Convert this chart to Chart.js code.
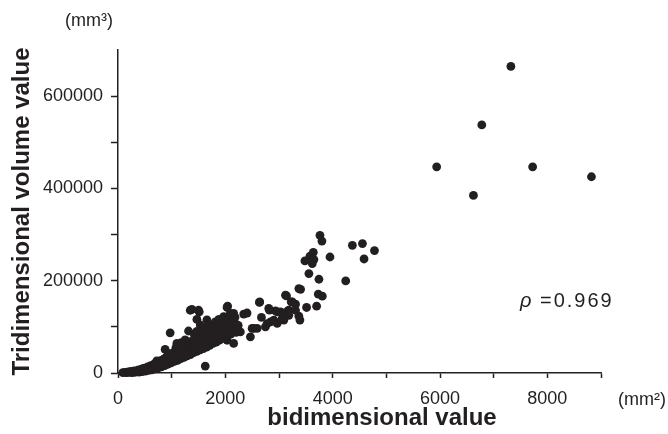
<!DOCTYPE html>
<html>
<head>
<meta charset="utf-8">
<script src="https://cdn.jsdelivr.net/npm/chart.js@4/dist/chart.umd.min.js"></script>
<style>
  body { margin: 0; background: #fff; }
  #wrap { width: 668px; height: 434px; }
</style>
</head>
<body>
<div id="wrap"><canvas id="scatter" width="668" height="434"></canvas></div>
<script>
// Axis texts
const xTitle = "bidimensional value";
const yTitle = "Tridimensional volume value";
const xUnit = "(mm\u00B2)";
const yUnit = "(mm\u00B3)";
const rhoText = "=0.969";

// Axis ranges / ticks
const xMax = 9000, xStep = 1000;
const yMax = 700000, yStep = 100000;

// Dense band of small lesions [bidimensional, tridimensional]
const bandPoints = [
    [90, 800], [130, 1500], [160, 600], [190, 2500], [210, 1200], [240, 3500], [260, 900], [280, 2200],
    [300, 4800], [320, 1600], [350, 3000], [370, 6000], [390, 2000], [410, 4500], [430, 8000], [450, 3200],
    [470, 6500], [490, 10500], [510, 4200], [530, 8500], [550, 13000], [570, 5500], [590, 10000], [610, 16000],
    [630, 7000], [650, 12500], [670, 19000], [690, 9000], [710, 15000], [730, 23000], [750, 11000], [770, 18000],
    [790, 27000], [810, 13500], [830, 21000], [850, 30000], [870, 16000], [890, 24500], [910, 34000], [930, 19000],
    [950, 28000], [970, 38000], [990, 22000], [1010, 31000], [1030, 44000], [1050, 25000], [1070, 35000], [1090, 48000],
    [1110, 27500], [1130, 39000], [1150, 52000], [1170, 31000], [1190, 43000], [1210, 56000], [1230, 34000], [1250, 47000],
    [1270, 60000], [1290, 37000], [1310, 50000], [1330, 63000], [1350, 40000], [1370, 54000], [1390, 66000], [1410, 44000],
    [1430, 57000], [1450, 70000], [1470, 47000], [1490, 60000], [1510, 73000], [1530, 50000], [1550, 63000], [1570, 76000],
    [1590, 53000], [1610, 67000], [1630, 80000], [1650, 56000], [1670, 70000], [1690, 84000], [1710, 60000], [1730, 74000],
    [1750, 88000], [1770, 64000], [1790, 78000], [1810, 92000], [1830, 67000], [1850, 82000], [1870, 96000], [1890, 71000],
    [1910, 86000], [1930, 100000], [1950, 75000], [1970, 90000], [1990, 104000], [2010, 79000], [2040, 94000], [2070, 108000],
    [2100, 84000], [2130, 98000], [2160, 112000], [2200, 88000], [2240, 103000],
    [600, 9000], [680, 13000], [760, 20000], [840, 17000], [880, 32000], [960, 25000], [1000, 40000], [1060, 30000],
    [1120, 45000], [1180, 37000], [1240, 52000], [1280, 44000], [1340, 58000], [1380, 47000], [1440, 62000], [1480, 55000],
    [1540, 68000], [1580, 60000], [1640, 72000], [1680, 64000], [1740, 79000], [1780, 70000], [1840, 87000], [1880, 78000],
    [1940, 93000], [1980, 83000], [720, 26000], [820, 24000], [920, 29000], [1020, 35000], [1140, 33000], [1260, 38000],
    [1360, 48000], [1460, 52000], [1560, 57000], [1660, 62000], [1760, 72000], [1860, 76000], [400, 6500], [460, 9500],
    [540, 11000], [640, 15000], [700, 18000], [780, 14000], [860, 26000], [940, 42000], [1080, 55000], [1200, 60000],
    [1320, 68000], [1420, 73000], [1520, 82000], [1620, 86000], [1720, 92000], [1820, 98000], [1920, 108000],
    [1560, 92000], [1600, 98000], [1680, 104000], [1740, 100000], [1880, 116000], [1960, 112000], [2060, 118000], [2180, 121000],
    [1420, 84000], [1470, 90000], [1250, 72000], [1180, 66000]
];

// Scattered medium lesions
const spreadPoints = [
    [972, 87000], [1314, 91000], [1097, 64000], [878, 51000], [1377, 138000], [1514, 132500], [1470, 116000], [1533, 104000],
    [1346, 136000], [1501, 136000], [1626, 15000], [1657, 115000], [1844, 111000], [1969, 122000], [2043, 145000], [2093, 129000],
    [2000, 118000], [2093, 100000], [1813, 111000], [1906, 107000], [1781, 93000], [1844, 75000], [2032, 71000], [2155, 64000],
    [2032, 142000], [2155, 129000], [2342, 127600], [2405, 130000], [2218, 104000], [2280, 89000], [2467, 78500], [2530, 96600],
    [2499, 96600], [2592, 96600], [2747, 100000], [2779, 107000], [2841, 111000], [2966, 107400], [2903, 114600], [3090, 114600],
    [2635, 153000], [2641, 154000], [2673, 120400], [2822, 136200], [2809, 140000], [2934, 134700], [3028, 132500], [2966, 132500],
    [3183, 136000], [3059, 118000], [3183, 125000], [3308, 136000], [3121, 168600], [3228, 154000], [3370, 183000],
    [3763, 298400], [3800, 286000], [4367, 276700], [4555, 280400], [4779, 265300], [4585, 247100], [3950, 251400], [3639, 261600],
    [3576, 253000], [3483, 242800], [3620, 237200], [3650, 245800], [3557, 215500], [3744, 203200], [4243, 199600], [3402, 181400],
    [3140, 167100], [3732, 170800], [3807, 166500], [3246, 154200], [3308, 149200], [3514, 142000], [3701, 144900], [3164, 134700],
    [3059, 130400], [3370, 123200], [3090, 118300], [3390, 114600]
];

// Large lesions
const largePoints = [
    [7321, 664400], [6779, 537700], [5938, 446900], [7726, 446900], [8822, 425300], [6623, 384900]
];

const ink = "#231f20";
const fontFamily = '"Liberation Sans", Arial, Helvetica, sans-serif';

function toXY(list) {
    return list.map(p => ({ x: p[0], y: p[1] }));
}

// Draws units, x title and the correlation coefficient
const textPlugin = {
    id: "extraText",
    afterDraw(chart) {
        const ctx = chart.ctx;
        const area = chart.chartArea;
        ctx.save();
        ctx.fillStyle = ink;
        ctx.textBaseline = "alphabetic";

        ctx.font = "bold 24px " + fontFamily;
        ctx.textAlign = "center";
        ctx.fillText(xTitle, area.left + 264, 425);

        ctx.font = "18px " + fontFamily;
        ctx.textAlign = "left";
        ctx.fillText(yUnit, 65, 26);
        ctx.fillText(xUnit, 618, 405);

        ctx.font = "italic 20px " + fontFamily;
        ctx.fillText("\u03C1", 520, 307);
        ctx.font = "20px " + fontFamily;
        ctx.letterSpacing = "2px";
        ctx.fillText(rhoText, 540, 307);
        ctx.restore();
    }
};

document.addEventListener("DOMContentLoaded", function () {
    const pointStyle = {
        backgroundColor: ink,
        borderWidth: 0,
        pointRadius: 4.4,
        pointHoverRadius: 4.4,
        clip: false
    };

    new Chart(document.getElementById("scatter").getContext("2d"), {
        type: "scatter",
        data: {
            datasets: [
                Object.assign({ label: "band", data: toXY(bandPoints) }, pointStyle),
                Object.assign({ label: "spread", data: toXY(spreadPoints) }, pointStyle),
                Object.assign({ label: "large", data: toXY(largePoints) }, pointStyle)
            ]
        },
        options: {
            responsive: false,
            animation: false,
            layout: { padding: { top: 50, right: 67, left: 0, bottom: 0 } },
            plugins: {
                legend: { display: false },
                tooltip: { enabled: false }
            },
            scales: {
                x: {
                    type: "linear",
                    min: 0,
                    max: xMax,
                    afterFit: scale => { scale.height = 61; },
                    border: { display: true, color: ink, width: 1.5 },
                    grid: { drawOnChartArea: false, drawTicks: true, tickLength: 5, tickColor: ink, tickWidth: 1.5 },
                    ticks: {
                        stepSize: xStep,
                        padding: 10,
                        color: ink,
                        font: { family: fontFamily, size: 18 },
                        callback: v => (v % 2000 === 0 ? String(v) : "")
                    }
                },
                y: {
                    type: "linear",
                    min: 0,
                    max: yMax,
                    afterFit: scale => { scale.width = 118; },
                    border: { display: true, color: ink, width: 1.5 },
                    grid: {
                        drawOnChartArea: false,
                        drawTicks: true,
                        tickLength: 7,
                        tickWidth: 1.5,
                        tickColor: c => (c.tick && c.tick.value === yMax ? "rgba(0,0,0,0)" : ink)
                    },
                    ticks: {
                        stepSize: yStep,
                        padding: 8,
                        color: ink,
                        font: { family: fontFamily, size: 18 },
                        callback: v => (v % 200000 === 0 && v !== yMax ? String(v) : "")
                    },
                    title: {
                        display: true,
                        text: yTitle,
                        color: ink,
                        padding: { top: 8 },
                        font: { family: fontFamily, size: 24, weight: "bold" }
                    }
                }
            }
        },
        plugins: [textPlugin]
    });
});
</script>
</body>
</html>
